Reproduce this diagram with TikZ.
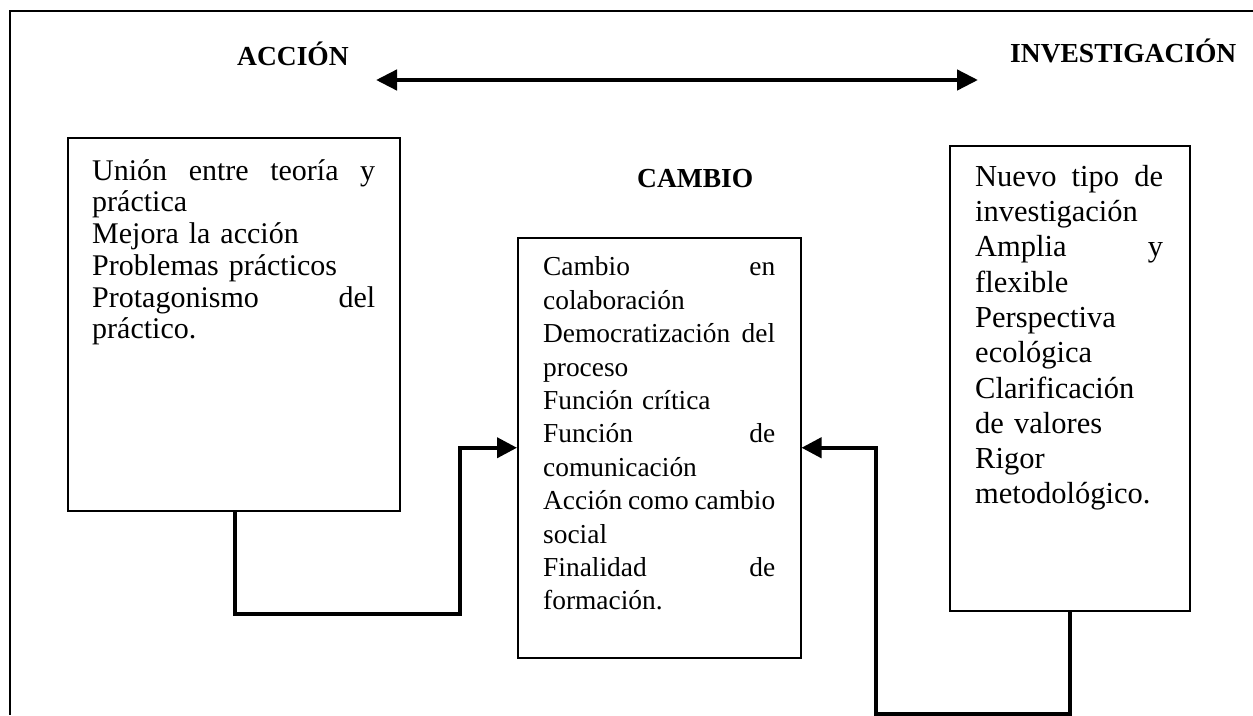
\documentclass[tikz,border=0pt]{standalone}
\usepackage{fontspec}
\setmainfont{Liberation Serif}
\usetikzlibrary{arrows.meta}
\newcommand{\jl}[2]{\makebox[#1][s]{#2}}
\begin{document}
\begin{tikzpicture}[x=1pt,y=-1pt,
  box/.style={draw, line width=1.5pt, anchor=north west, inner sep=0pt},
  txt/.style={anchor=north west, inner sep=0pt, align=left},
  ttl/.style={anchor=base west, inner sep=0pt, font=\fontsize{27.5pt}{30pt}\selectfont\bfseries},
  conn/.style={line width=4pt, -{Triangle[length=20pt,width=20pt]}},
  frame/.style={line width=2pt}]
\useasboundingbox (0,0) rectangle (1253,715);
\draw[frame] (1253,11) -- (10,11) -- (10,715);

% titles
\node[ttl] (acc) at (237,65) {ACCIÓN};
\node[ttl] (inv) at (1010,62) {INVESTIGACIÓN};
\node[ttl] (cam) at (637,187) {CAMBIO};

% top double arrow
\coordinate (aL) at (376,80);
\coordinate (aR) at (978,80);
\draw[line width=4.5pt, {Triangle[length=21pt,width=20pt]}-{Triangle[length=21pt,width=20pt]}] (aL) -- (aR);

% boxes
\node[box, minimum width=332pt, minimum height=373pt] (l) at (67,137) {};
\node[box, minimum width=283pt, minimum height=420pt] (c) at (517,237) {};
\node[box, minimum width=240pt, minimum height=465pt] (r) at (949,145) {};

% texts
\node[txt, text width=283pt, font=\fontsize{30pt}{31.7pt}\selectfont] (lt) at (92,156)
  {\rule{0pt}{24pt}\jl{283pt}{Unión\hfill entre\hfill teoría\hfill y}\\práctica\\Mejora la acción\\Problemas prácticos\\\jl{283pt}{Protagonismo\hfill del}\\práctico.};
\node[txt, text width=232pt, font=\fontsize{27.4pt}{33.4pt}\selectfont] (ct) at (543,253.7)
  {\rule{0pt}{22pt}\jl{232pt}{Cambio\hfill en}\\colaboración\\\jl{232pt}{Democratización\hfill del}\\proceso\\Función crítica\\\jl{232pt}{Función\hfill de}\\comunicación\\\jl{232pt}{Acción\hfill como\hfill cambio}\\social\\\jl{232pt}{Finalidad\hfill de}\\formación.};
\node[txt, text width=188pt, font=\fontsize{30.5pt}{35.3pt}\selectfont] (rt) at (975,162)
  {\rule{0pt}{24pt}\jl{188pt}{Nuevo\hfill tipo\hfill de}\\investigación\\\jl{188pt}{Amplia\hfill y}\\flexible\\Perspectiva\\ecológica\\Clarificación\\de valores\\Rigor\\metodológico.};

% connectors
\draw[conn] ([xshift=168pt]l.south west) |- ++(225,102) |- (c.west);
\draw[conn] (r.south) |- ++(-194,102) |- (c.east);
\end{tikzpicture}
\end{document}
